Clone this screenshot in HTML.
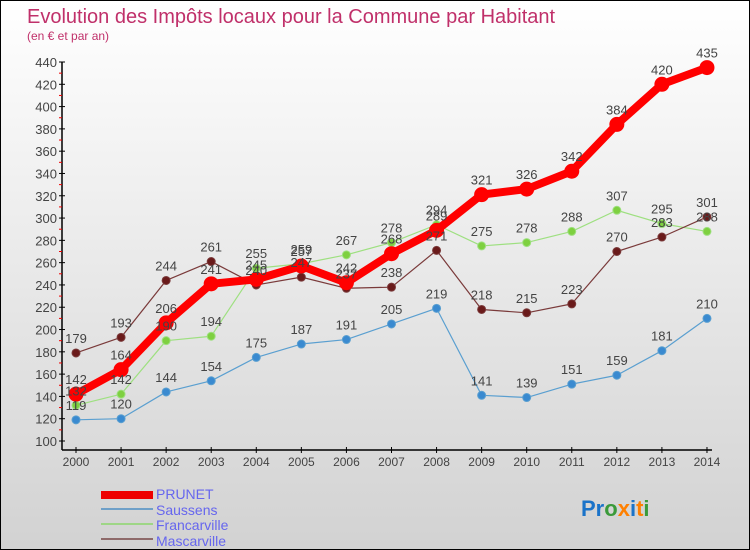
<!DOCTYPE html>
<html><head><meta charset="utf-8"><style>
body{margin:0}
#wrap{position:relative;width:748px;height:548px;border:1px solid #000;background:linear-gradient(#fff,#d2d2d2);font-family:"Liberation Sans",sans-serif;overflow:hidden}
</style></head><body>
<div id="wrap">
<svg id="svg" width="748" height="548" style="position:absolute;left:0;top:0">
<text x="26" y="22" font-size="20" fill="#c0306a">Evolution des Impôts locaux pour la Commune par Habitant</text>
<text x="26" y="39" font-size="12" fill="#c0306a">(en € et par an)</text>
<g id="axes"></g><g id="series"></g><g id="labels"></g>
<g>
<rect x="100" y="490" width="52" height="8" fill="#e00"/>
<text x="155" y="498" font-size="14" fill="#6666ee">PRUNET</text>
<rect x="100" y="507" width="52" height="2" fill="#6fa0c8"/>
<text x="155" y="514" font-size="14" fill="#6666ee">Saussens</text>
<rect x="100" y="522" width="52" height="2" fill="#9ed686"/>
<text x="155" y="529" font-size="14" fill="#6666ee">Francarville</text>
<rect x="100" y="537" width="52" height="2" fill="#8e6a6a"/>
<text x="155" y="545" font-size="14" fill="#6666ee">Mascarville</text>
</g>
<text x="580" y="515" font-size="22" font-weight="bold"><tspan fill="#1a73c9">Pr</tspan><tspan fill="#3a9a3a">o</tspan><tspan fill="#ff8000">x</tspan><tspan fill="#1a73c9">i</tspan><tspan fill="#ff8000">t</tspan><tspan fill="#3a9a3a">i</tspan></text>
</svg>
</div>
<script>
const years=[2000,2001,2002,2003,2004,2005,2006,2007,2008,2009,2010,2011,2012,2013,2014];
const yTicks=[100,120,140,160,180,200,220,240,260,280,300,320,340,360,380,400,420,440];
const prunet=[142,164,206,241,245,257,242,268,289,321,326,342,384,420,435];
const saussens=[119,120,144,154,175,187,191,205,219,141,139,151,159,181,210];
const francarville=[132,142,190,194,255,259,267,278,294,275,278,288,307,295,288];
const mascarville=[179,193,244,261,240,247,237,238,271,218,215,223,270,283,301];
const NS='http://www.w3.org/2000/svg';
function X(i){return 75+i*45.07;}
function Y(v){return 440-(v-100)*1.1147;}
function mk(t,a,p){const e=document.createElementNS(NS,t);for(const k in a)e.setAttribute(k,a[k]);p.appendChild(e);return e;}
const ax=document.getElementById('axes');
const yl=mk('line',{x1:61,y1:Y(440),x2:61,y2:449,stroke:'#000','stroke-width':1.5},ax);


const xl=mk('line',{x1:61,y1:449,x2:X(14)+5,y2:449,stroke:'#000','stroke-width':1.5},ax);


yTicks.forEach(v=>{
 mk('line',{x1:58,y1:Y(v),x2:64,y2:Y(v),stroke:'#000'},ax);
 if(v<440)mk('line',{x1:58,y1:Y(v+10),x2:61,y2:Y(v+10),stroke:'#e00'},ax);
 const t=mk('text',{x:56,y:Y(v)+5,'font-size':13,fill:'#444','text-anchor':'end'},ax);t.textContent=v;
 
 
});
years.forEach((y,i)=>{
 mk('line',{x1:X(i),y1:446,x2:X(i),y2:452,stroke:'#000'},ax);
 const t=mk('text',{x:X(i),y:465,'font-size':12,fill:'#444','text-anchor':'middle'},ax);t.textContent=y;
 
 
});
const sg=document.getElementById('series'),lg=document.getElementById('labels');
function draw(data,name,col,dot,w,r){
 const g=mk('g',{},sg);
 
 
 mk('polyline',{points:data.map((v,i)=>X(i)+','+Y(v)).join(' '),fill:'none',stroke:col,'stroke-width':w,'stroke-linejoin':'round'},g);
 data.forEach((v,i)=>{
  const c=mk('circle',{cx:X(i),cy:Y(v),r:r,fill:dot,stroke:col,'stroke-width':1},g);
  
  
  const t=mk('text',{x:X(i),y:Y(v)-10,'font-size':13,fill:'#444','text-anchor':'middle'},lg);t.textContent=v;
  
  
 });
}
draw(saussens,'saussens','#5a9fd0','#3a8ad0',1.2,4);
draw(francarville,'francarville','#9ee080','#7ed040',1.2,4);
draw(mascarville,'mascarville','#7a3a3a','#6a1a1a',1.2,4);
draw(prunet,'prunet','#ff0000','#ff0000',8,7);
</script>
</body></html>
